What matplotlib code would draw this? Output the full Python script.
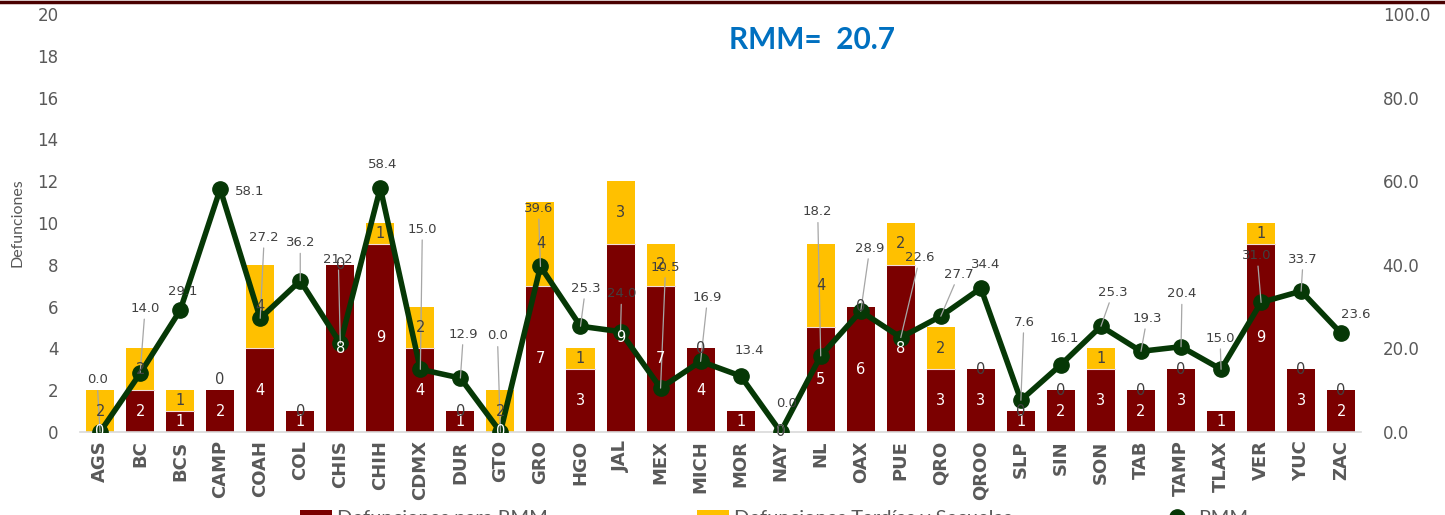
import numpy as np
import matplotlib
matplotlib.use("Agg")
import matplotlib.pyplot as plt
from matplotlib.patches import Patch
from matplotlib.lines import Line2D

states = ["AGS", "BC", "BCS", "CAMP", "COAH", "COL", "CHIS", "CHIH", "CDMX", "DUR",
          "GTO", "GRO", "HGO", "JAL", "MEX", "MICH", "MOR", "NAY", "NL", "OAX",
          "PUE", "QRO", "QROO", "SLP", "SIN", "SON", "TAB", "TAMP", "TLAX", "VER",
          "YUC", "ZAC"]
def_rmm = [0, 2, 1, 2, 4, 1, 8, 9, 4, 1,
           0, 7, 3, 9, 7, 4, 1, 0, 5, 6,
           8, 3, 3, 1, 2, 3, 2, 3, 1, 9,
           3, 2]
def_tardias = [2, 2, 1, 0, 4, 0, 0, 1, 2, 0,
               2, 4, 1, 3, 2, 0, np.nan, 0, 4, 0,
               2, 2, 0, 0, 0, 1, 0, 0, np.nan, 1,
               0, 0]
rmm = [0.0, 14.0, 29.1, 58.1, 27.2, 36.2, 21.2, 58.4, 15.0, 12.9,
       0.0, 39.6, 25.3, 24.0, 10.5, 16.9, 13.4, 0.0, 18.2, 28.9,
       22.6, 27.7, 34.4, 7.6, 16.1, 25.3, 19.3, 20.4, 15.0, 31.0,
       33.7, 23.6]
rmm_nacional = 20.7
legend_labels = ["Defunciones para RMM", "Defunciones Tardías y Secuelas", "RMM"]

# label offsets for the RMM data labels (pixels)
label_offsets = [(-3, 52), (5, 65), (3, 19), (30, -2), (4, 81), (0, 38), (-2, 84), (2, 23),
                 (2, 140), (3, 44), (-3, 96), (-2, 58), (5, 38), (1, 38), (5, 121), (7, 64),
                 (9, 25), (6, 28), (-3, 144), (9, 63), (19, 80), (18, 42), (5, 24), (3, 78),
                 (3, 26), (12, 34), (6, 33), (1, 53), (-1, 31), (-4, 47), (2, 32), (15, 19)]

RED = "#7b0000"
YEL = "#ffc000"
GREEN = "#063806"
GREY = "#595959"
DGREY = "#404040"

fig = plt.figure(figsize=(14.45, 5.15), dpi=100)
ax = fig.add_axes([0.0554, 0.1612, 0.8866, 0.8116])
x = np.arange(len(states))
red = np.array(def_rmm, dtype=float)
yel = np.array(def_tardias, dtype=float)

ax.bar(x, red, width=0.7, color=RED, edgecolor="none", zorder=2)
ax.bar(x, yel, width=0.7, bottom=red, color=YEL, edgecolor="none", zorder=2)
for xi, r, yv in zip(x, red, yel):
    if r > 0 and not np.isnan(yv) and yv > 0:
        ax.plot([xi - 0.35, xi + 0.35], [r, r], color="#f2dcdb", lw=0.8, zorder=3)

ax.set_xlim(-0.5, len(states) - 0.5)
ax.set_ylim(0, 20)
ax.set_yticks(np.arange(0, 21, 2))
ax.set_xticks(x)
ax.set_xticklabels(states, rotation=90, fontsize=13, fontweight="bold",
                   color=GREY, family=["Liberation Sans Narrow", "DejaVu Sans"])
ax.tick_params(axis="x", length=0, pad=6)
ax.tick_params(axis="y", length=0, labelsize=12, labelcolor=GREY, pad=15.5)
for s in ["top", "right", "left"]:
    ax.spines[s].set_visible(False)
ax.spines["bottom"].set_color("#d9d9d9")
ax.spines["bottom"].set_linewidth(1.2)
ax.set_ylabel("Defunciones", fontsize=11.5, color=GREY, family=["Lato", "DejaVu Sans"])
ax.yaxis.set_label_coords(-0.043, 0.5)

ax2 = ax.twinx()
ax2.set_ylim(0, 100)
ax2.set_yticks(np.arange(0, 101, 20))
ax2.set_yticklabels([f"{v:.1f}" for v in np.arange(0, 101, 20)])
ax2.tick_params(axis="y", length=0, labelsize=12, labelcolor=GREY, pad=15.5)
for s in ax2.spines.values():
    s.set_visible(False)
ax2.plot(x, rmm, color=GREEN, lw=4, marker="o", markersize=11, zorder=3,
         solid_joinstyle="round")

for xi, v, (dx, dy) in zip(x, rmm, label_offsets):
    lead = abs(dy) > 30
    ax2.annotate(f"{v:.1f}", xy=(xi, v), xytext=(dx, dy), textcoords="offset pixels",
                 ha="center", va="center", fontsize=9.5, color=DGREY, zorder=6,
                 arrowprops=dict(arrowstyle="-", color="#a6a6a6", lw=0.9,
                                 shrinkA=1, shrinkB=0) if lead else None)

for i, (xi, r, yv) in enumerate(zip(x, red, yel)):
    ax2.text(xi, r / 2 if r > 0 else 0, f"{int(r)}", transform=ax.transData,
             ha="center", va="center", fontsize=10.5, color="white", zorder=7)
    if not np.isnan(yv):
        ypos = r + yv / 2 if yv > 0 else r
        if yv == 0 and states[i] == "CAMP":
            ypos = r + 0.5
        ax2.text(xi, ypos, f"{int(yv)}", transform=ax.transData,
                 ha="center", va="center", fontsize=10.5, color=DGREY, zorder=7)

fig.text(0.562, 0.922, f"RMM=  {rmm_nacional:.1f}", fontsize=21.5, fontweight="bold",
         color="#0070c0", ha="center", va="center", family=["Lato", "DejaVu Sans"])

handles = [Patch(facecolor=RED, edgecolor="none"),
           Patch(facecolor=YEL, edgecolor="none"),
           Line2D([0], [0], color=GREEN, lw=4, marker="o", markersize=11)]
leg_x = [300 / 1445, 697 / 1445, 1161 / 1445]
for h, lab, lx in zip(handles, legend_labels, leg_x):
    leg = fig.legend([h], [lab], loc="center left", bbox_to_anchor=(lx, -0.006),
                     frameon=False, handlelength=1.6, handletextpad=0.25,
                     borderpad=0, borderaxespad=0, labelcolor=GREY,
                     prop={"family": ["Lato", "DejaVu Sans"], "size": 14.5})

fig.add_artist(Line2D([0, 1], [0.997, 0.997], color="#4a0000", lw=2.5,
                      transform=fig.transFigure))

fig.savefig("out.png", dpi=100)
